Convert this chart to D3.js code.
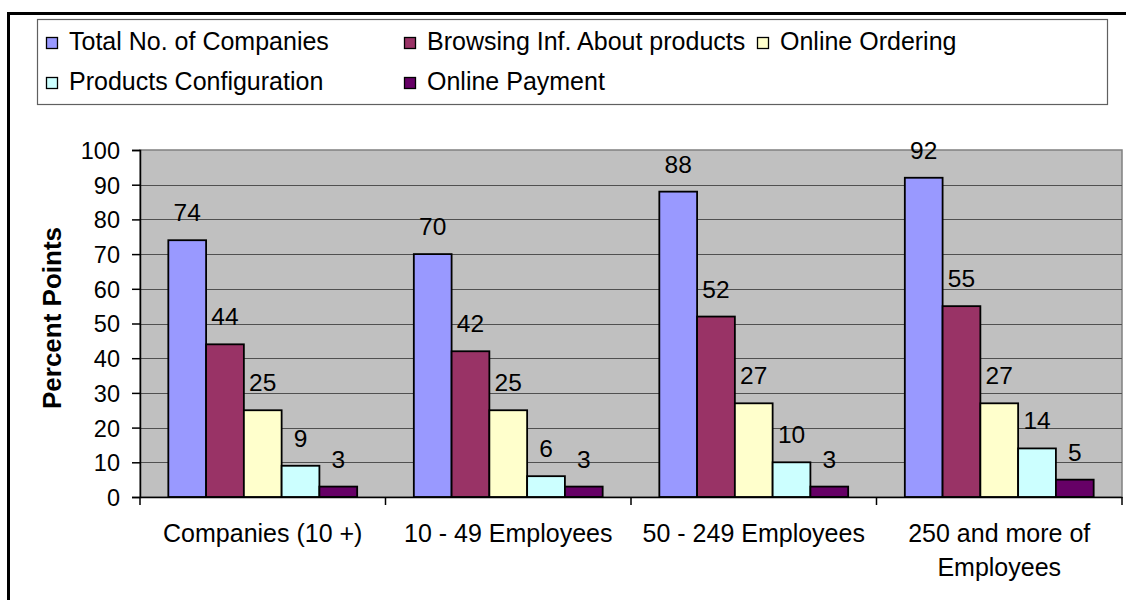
<!DOCTYPE html>
<html>
<head>
<meta charset="utf-8">
<script src="https://cdn.jsdelivr.net/npm/d3@7"></script>
<style>
  html, body { margin: 0; padding: 0; background: #fff; }
  svg { display: block; }
  text { font-family: "Liberation Sans", Arial, sans-serif; fill: #000; }
</style>
</head>
<body>
<svg id="chart" width="1126" height="600"></svg>
<script>
// Company size groups along the x axis
const categories = ["Companies (10 +)", "10 - 49 Employees", "50 - 249 Employees", "250 and more of Employees"];
const categoryLines = [["Companies (10 +)"], ["10 - 49 Employees"], ["50 - 249 Employees"], ["250 and more of", "Employees"]];

// E-commerce activities (one bar per activity in each group)
const seriesNames = ["Total No. of Companies", "Browsing Inf. About products", "Online Ordering", "Products Configuration", "Online Payment"];
const seriesColors = ["#9999FF", "#993366", "#FFFFCC", "#CCFFFF", "#660066"];

// Percent points per series, in category order
const totalCompanies = [74, 70, 88, 92];
const browsingInfo   = [44, 42, 52, 55];
const onlineOrdering = [25, 25, 27, 27];
const productsConfig = [9, 6, 10, 14];
const onlinePayment  = [3, 3, 3, 5];

const yTicks = [0, 10, 20, 30, 40, 50, 60, 70, 80, 90, 100];

const seriesValues = [totalCompanies, browsingInfo, onlineOrdering, productsConfig, onlinePayment];

const svg = d3.select("#chart");

// Outer chart frame
svg.append("rect")
  .attr("x", 8.5).attr("y", 13.5)
  .attr("width", 1200).attr("height", 700)
  .attr("fill", "#fff").attr("stroke", "#000").attr("stroke-width", 3);

// Plot area
const plot = { left: 140, right: 1122, top: 150, bottom: 497 };

const x = d3.scaleBand().domain(categories).range([plot.left, plot.right]).paddingInner(0).paddingOuter(0);
const xSub = d3.scaleBand().domain(seriesNames).range([0, x.bandwidth()]).paddingInner(0).paddingOuter(0.75);
const y = d3.scaleLinear().domain([0, 100]).range([plot.bottom, plot.top]);

svg.append("rect")
  .attr("x", plot.left).attr("y", plot.top)
  .attr("width", plot.right - plot.left).attr("height", plot.bottom - plot.top)
  .attr("fill", "#C0C0C0").attr("stroke", "#808080").attr("stroke-width", 1.5);

// Horizontal gridlines
svg.append("g")
  .selectAll("line")
  .data(yTicks.filter(t => t > 0 && t < 100))
  .join("line")
  .attr("x1", plot.left).attr("x2", plot.right)
  .attr("y1", d => Math.round(y(d)) + 0.5).attr("y2", d => Math.round(y(d)) + 0.5)
  .attr("stroke", "#505050").attr("stroke-width", 1);

// Bars
const groups = svg.append("g")
  .selectAll("g")
  .data(seriesNames.map((name, i) => ({ name, color: seriesColors[i], values: seriesValues[i] })))
  .join("g");

groups.selectAll("rect")
  .data(s => s.values.map((v, j) => ({ name: s.name, color: s.color, cat: categories[j], value: v })))
  .join("rect")
  .attr("x", d => x(d.cat) + xSub(d.name))
  .attr("y", d => y(d.value))
  .attr("width", xSub.bandwidth())
  .attr("height", d => y(0) - y(d.value))
  .attr("fill", d => d.color)
  .attr("stroke", "#000").attr("stroke-width", 1.8);

// Value labels above bars
groups.selectAll("text")
  .data(s => s.values.map((v, j) => ({ name: s.name, cat: categories[j], value: v })))
  .join("text")
  .attr("x", d => x(d.cat) + xSub(d.name) + xSub.bandwidth() / 2)
  .attr("y", d => y(d.value) - 19)
  .attr("text-anchor", "middle")
  .style("font-size", "24.5px")
  .text(d => d.value);

// Y axis
const yAxis = d3.axisLeft(y).tickValues(yTicks).tickSize(8).tickPadding(12).tickFormat(d3.format("d"));
const gy = svg.append("g").attr("transform", `translate(${plot.left},0)`).call(yAxis);
gy.select(".domain").attr("stroke", "#000").attr("stroke-width", 1.5);
gy.selectAll(".tick line").attr("stroke", "#000").attr("stroke-width", 1.5);
gy.selectAll(".tick text").style("font-size", "23.5px").attr("dy", "0.36em");

// X axis baseline and category separator ticks
const xAxis = d3.axisBottom(x).tickSize(0).tickFormat("");
const gx = svg.append("g").attr("transform", `translate(0,${plot.bottom})`).call(xAxis);
gx.select(".domain").attr("stroke", "#000").attr("stroke-width", 1.5);
gx.selectAll(".tick").remove();

const bounds = categories.map(c => x(c)).concat([x(categories[categories.length - 1]) + x.bandwidth()]);
svg.append("g")
  .selectAll("line")
  .data(bounds)
  .join("line")
  .attr("x1", d => d).attr("x2", d => d)
  .attr("y1", plot.bottom).attr("y2", plot.bottom + 8)
  .attr("stroke", "#000").attr("stroke-width", 1.5);

// Category labels
const catLabels = svg.append("g")
  .selectAll("text")
  .data(categories.map((c, i) => ({ c, lines: categoryLines[i] })))
  .join("text")
  .attr("text-anchor", "middle")
  .style("font-size", "25px");
catLabels.selectAll("tspan")
  .data(d => d.lines.map((l, k) => ({ l, k, c: d.c })))
  .join("tspan")
  .attr("x", d => x(d.c) + x.bandwidth() / 2)
  .attr("y", d => 542 + d.k * 34)
  .text(d => d.l);

// Y axis title
svg.append("text")
  .attr("transform", `translate(61,318) rotate(-90)`)
  .attr("text-anchor", "middle")
  .style("font-size", "26px").style("font-weight", "bold")
  .text("Percent Points");

// Legend
svg.append("rect")
  .attr("x", 37.5).attr("y", 19.5).attr("width", 1070).attr("height", 85)
  .attr("fill", "#fff").attr("stroke", "#606060").attr("stroke-width", 1.2);

const legendCols = [46, 404, 757];
const legendRows = [43, 83];
const legendSlots = [[0, 0], [1, 0], [2, 0], [0, 1], [1, 1]];

const legend = svg.append("g")
  .selectAll("g")
  .data(seriesNames.map((name, i) => ({ name, color: seriesColors[i], slot: legendSlots[i] })))
  .join("g")
  .attr("transform", d => `translate(${legendCols[d.slot[0]]},${legendRows[d.slot[1]]})`);

legend.append("rect")
  .attr("x", 0.5).attr("y", -5.5).attr("width", 11).attr("height", 11)
  .attr("fill", d => d.color).attr("stroke", "#000").attr("stroke-width", 1.3);

legend.append("text")
  .attr("x", 23).attr("y", 7)
  .style("font-size", "25px")
  .text(d => d.name);
</script>
</body>
</html>
